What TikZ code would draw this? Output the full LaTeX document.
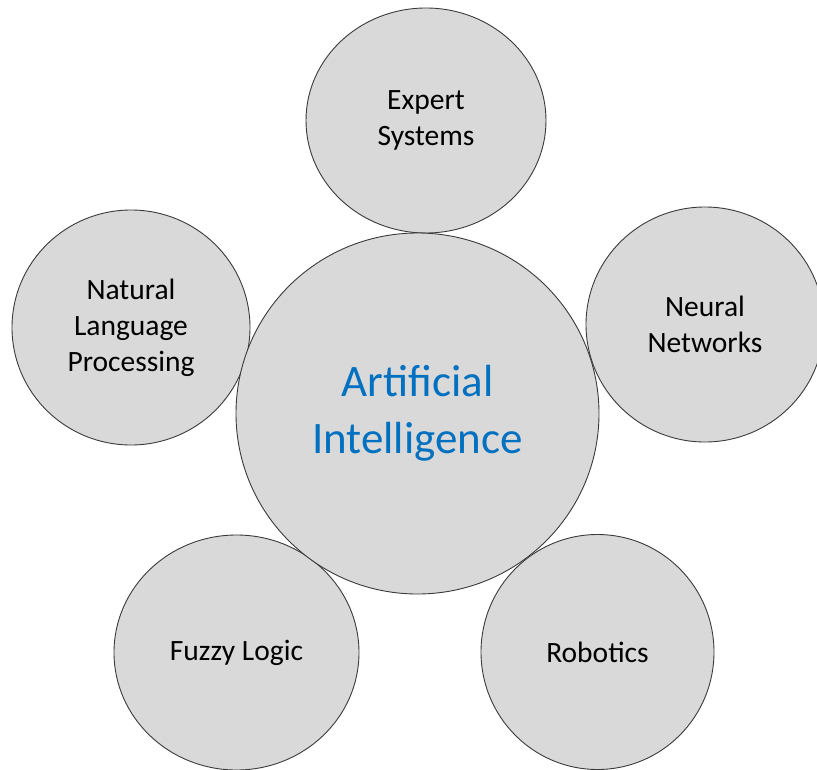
\documentclass[tikz,border=0pt]{standalone}
\usepackage{fontspec}
\setmainfont{Carlito}
\usetikzlibrary{shapes.geometric}
\definecolor{bubfill}{HTML}{D9D9D9}
\definecolor{bubline}{HTML}{3A3A3A}
\definecolor{aiblue}{HTML}{0070C0}
\tikzset{
  bub/.style={ellipse, draw=bubline, line width=0.9bp, fill=bubfill, inner sep=0pt,
    align=center, font=\fontsize{29.5bp}{36bp}\selectfont, text=black},
  bigbub/.style={bub, text=aiblue, font=\fontsize{45bp}{57bp}\selectfont}
}
\begin{document}
\begin{tikzpicture}[x=1bp,y=-1bp]
\useasboundingbox (0,0) rectangle (817,770);
\node[bub, minimum width=240bp, minimum height=225bp] (exp) at (426,120.5) {Expert\\Systems};
\node[bub, minimum width=238bp, minimum height=235bp] (nlp) at (131,327.5) {Natural\\Language\\Processing};
\node[bub, minimum width=238bp, minimum height=235bp] (nn) at (705,324.5) {Neural\\Networks};
\node[bub, minimum width=245bp, minimum height=235bp] (fuz) at (236.5,652.5) {Fuzzy Logic};
\node[bub, minimum width=233bp, minimum height=235bp] (rob) at (597.5,652) {Robotics};
\node[bigbub, minimum width=363bp, minimum height=361bp] (ai) at (417.5,413.5) {Artificial\\Intelligence};
\end{tikzpicture}
\end{document}
